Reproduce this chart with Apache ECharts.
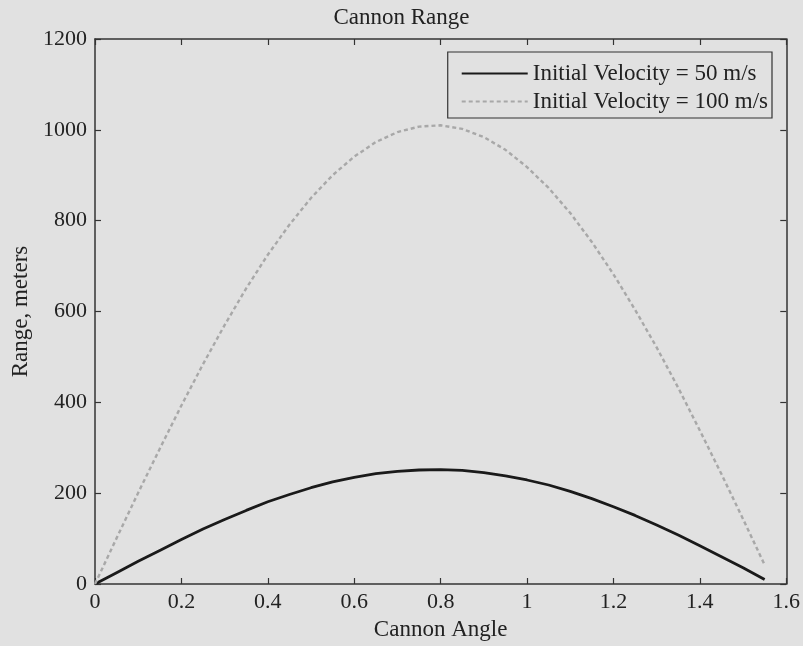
<!DOCTYPE html>
<html><head><meta charset="utf-8">
<script src="https://cdn.jsdelivr.net/npm/echarts@6/dist/echarts.min.js"></script>
<style>html,body{margin:0;padding:0;background:#e1e1e1}#c{width:803px;height:646px}</style>
</head><body><div id="c"></div>
<script>
const angles = [0,0.05,0.1,0.15,0.2,0.25,0.3,0.35,0.4,0.45,0.5,0.55,0.6,0.65,0.7,0.75,0.8,0.85,0.9,0.95,1.0,1.05,1.1,1.15,1.2,1.25,1.3,1.35,1.4,1.45,1.5,1.55];
const range50 = [0,25,50,74,98,121,142,162,181,197,212,225,235,243,248,251,252,250,245,238,229,218,204,188,170,151,130,108,84,60,36,10];
const range100 = [0,101,201,298,393,484,570,651,725,791,850,900,941,973,995,1007,1010,1002,984,956,918,872,817,753,682,604,521,432,338,242,143,42];
const seriesNames = ['Initial Velocity = 50 m/s','Initial Velocity = 100 m/s'];
const titleText = 'Cannon Range';
const xName = 'Cannon Angle';
const yName = 'Range, meters';

const font = 'Liberation Serif';
const txt = '#222';
const axisCol = '#333';
const chart = echarts.init(document.getElementById('c'));
const baseAxis = {
  axisLine:{show:true,onZero:false,lineStyle:{color:axisCol,width:1.5}},
  axisTick:{show:true,inside:true,length:6,lineStyle:{color:axisCol,width:1.2}},
  splitLine:{show:false}
};
chart.setOption({
  backgroundColor:'#e1e1e1',
  animation:false,
  title:{text:titleText,left:'center',top:1,textStyle:{fontFamily:font,fontSize:23,fontWeight:'normal',color:txt}},
  legend:{
    orient:'vertical',right:31,top:52,
    data:seriesNames,
    itemWidth:66,itemHeight:10,itemGap:5,
    padding:[10,4,5,13],
    borderColor:'#333',borderWidth:1.2,
    backgroundColor:'#e1e1e1',
    itemStyle:{opacity:0},
    textStyle:{fontFamily:font,fontSize:23,color:txt}
  },
  grid:{left:95,right:16,top:39,bottom:61},
  xAxis:[
    Object.assign({},baseAxis,{type:'value',min:0,max:1.6,interval:0.2,position:'bottom',
      name:xName,nameLocation:'middle',nameGap:34,
      nameTextStyle:{fontFamily:font,fontSize:23,color:txt},
      axisLabel:{fontFamily:font,fontSize:22,color:txt,margin:7}}),
    Object.assign({},baseAxis,{type:'value',min:0,max:1.6,interval:0.2,position:'top',axisLabel:{show:false}})
  ],
  yAxis:[
    Object.assign({},baseAxis,{type:'value',min:0,max:1200,interval:200,position:'left',
      name:yName,nameLocation:'middle',nameGap:56,nameRotate:90,
      nameTextStyle:{fontFamily:font,fontSize:23,color:txt},
      axisLabel:{fontFamily:font,fontSize:22,color:txt,margin:8,formatter:v=>String(v)}}),
    Object.assign({},baseAxis,{type:'value',min:0,max:1200,interval:200,position:'right',axisLabel:{show:false}})
  ],
  series:[
    {name:seriesNames[0],type:'line',symbol:'none',data:angles.map((a,i)=>[a,range50[i]]),
      lineStyle:{color:'#1a1a1a',width:2.8,type:'solid'},itemStyle:{color:'#1a1a1a'}},
    {name:seriesNames[1],type:'line',symbol:'none',data:angles.map((a,i)=>[a,range100[i]]),
      lineStyle:{color:'#a8a8a8',width:2.4,type:[4,3]},itemStyle:{color:'#a8a8a8'}}
  ]
});
</script></body></html>
